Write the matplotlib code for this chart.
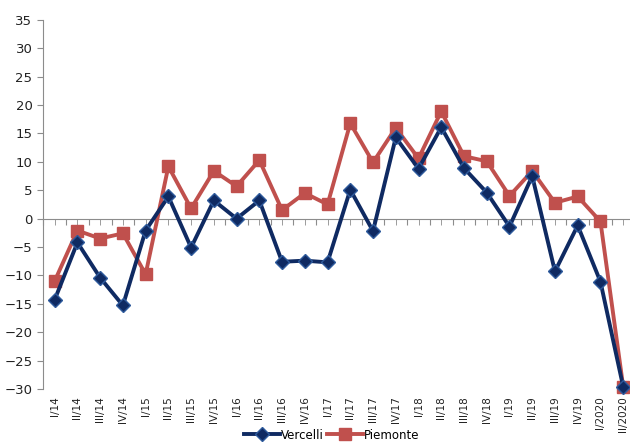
import matplotlib
matplotlib.use("Agg")
from matplotlib import pyplot as plt

quarters = ["I/14", "II/14", "III/14", "IV/14",
            "I/15", "II/15", "III/15", "IV/15",
            "I/16", "II/16", "III/16", "IV/16",
            "I/17", "II/17", "III/17", "IV/17",
            "I/18", "II/18", "III/18", "IV/18",
            "I/19", "II/19", "III/19", "IV/19",
            "I/2020", "II/2020"]

vercelli = [-14.3, -4.2, -10.4, -15.3, -2.1, 3.9, -5.1, 3.2, 0.0, 3.2,
            -7.6, -7.4, -7.7, 5.1, -2.2, 14.3, 8.8, 16.1, 8.9, 4.6,
            -1.4, 7.5, -9.3, -1.2, -11.1, -29.6]
piemonte = [-11.0, -2.1, -3.5, -2.6, -9.8, 9.2, 1.8, 8.4, 5.7, 10.3,
            1.5, 4.5, 2.5, 16.8, 9.9, 16.0, 10.6, 18.9, 11.0, 10.1,
            4.0, 8.4, 2.8, 3.9, -0.5, -29.6]

navy = "#0F2A62"
red = "#C0504D"
grey = "#8C8C8C"

fig = plt.figure(figsize=(6.3, 4.43), dpi=100)
ax = fig.add_axes([0.068, 0.122, 0.932, 0.833])

x = list(range(len(quarters)))
ax.plot(x, piemonte, color=red, lw=2.8, marker="s", markersize=8,
        markeredgecolor=red, label="Piemonte", zorder=3, clip_on=False)
ax.plot(x, vercelli, color=navy, lw=2.8, marker="D", markersize=7,
        markeredgecolor="#2E5A9C", markeredgewidth=1, label="Vercelli",
        zorder=4, clip_on=False)

# category axis crosses at zero, labels sit at the bottom
for side in ("top", "right"):
    ax.spines[side].set_visible(False)
ax.spines["left"].set_color(grey)
ax.spines["bottom"].set_position(("data", 0))
ax.spines["bottom"].set_color(grey)
ax.set_xticks([i - 0.5 for i in range(len(quarters) + 1)])
ax.set_xticks(x, minor=True)
ax.tick_params(axis="x", which="both", length=4, direction="out",
               colors=grey, labelbottom=False)

ax.set_yticks(range(-30, 36, 5))
ax.tick_params(axis="y", labelsize=9.5, colors=grey, labelcolor="#222222",
               length=4, direction="out")
ax.set_xlim(-0.52, 25.3)
ax.set_ylim(-30, 35)

sec = ax.secondary_xaxis("bottom")
sec.set_xticks(x)
sec.set_xticklabels(quarters, rotation=90, fontsize=7.5, color="#222222")
sec.tick_params(length=0, pad=5)
sec.spines["bottom"].set_visible(False)

handles, labels = ax.get_legend_handles_labels()
fig.legend(handles[::-1], labels[::-1], loc="center",
           bbox_to_anchor=(0.527, 0.018), ncol=2, frameon=False,
           fontsize=8.5, handlelength=3.0, columnspacing=0.3,
           handletextpad=0.1, borderpad=0.1)

fig.savefig("out.png", dpi=100)
